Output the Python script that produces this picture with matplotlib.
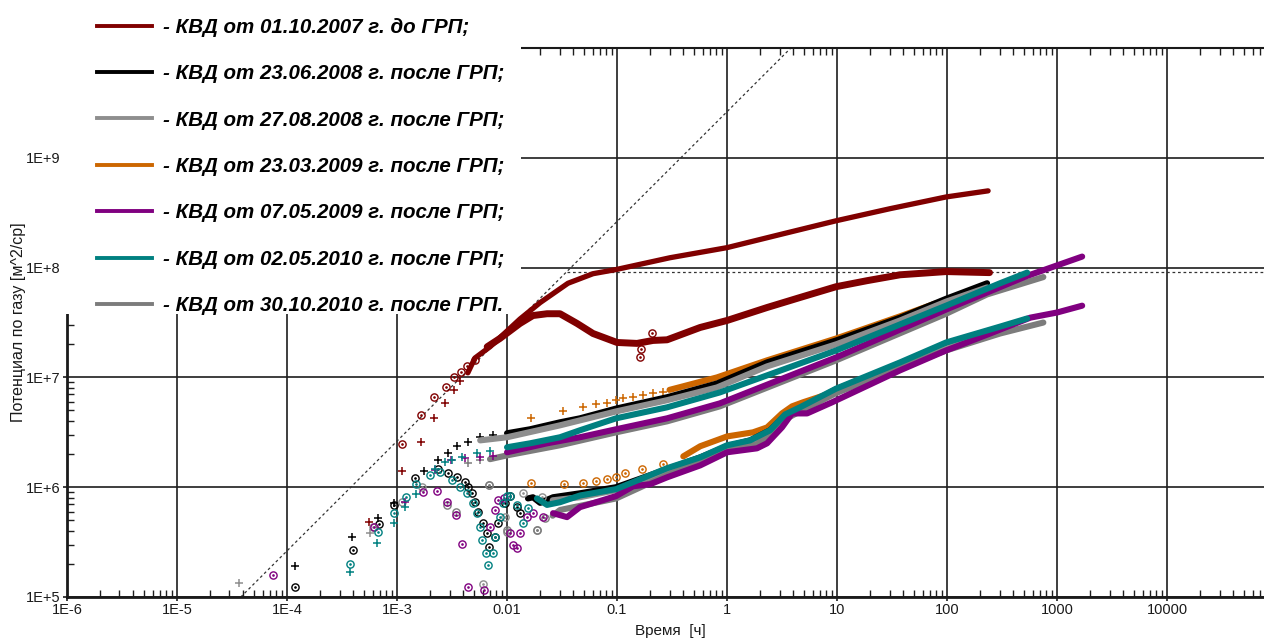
import matplotlib
matplotlib.use('Agg')
import matplotlib.pyplot as plt
from matplotlib.lines import Line2D
from matplotlib.patches import Rectangle
from matplotlib.font_manager import FontProperties
import matplotlib.ticker as mticker

plt.rcParams['font.family'] = ['Liberation Sans', 'DejaVu Sans']

# ---------------- data ----------------
labels = ['- КВД от 01.10.2007 г. до ГРП;',
          '- КВД от 23.06.2008 г. после ГРП;',
          '- КВД от 27.08.2008 г. после ГРП;',
          '- КВД от 23.03.2009 г. после ГРП;',
          '- КВД от 07.05.2009 г. после ГРП;',
          '- КВД от 02.05.2010 г. после ГРП;',
          '- КВД от 30.10.2010 г. после ГРП.']
colors = ['#800000', '#000000', '#8e8e8e', '#cc6600', '#800080', '#008080', '#7c7c7c']

x_ticks = [1e-6, 1e-5, 1e-4, 1e-3, 1e-2, 1e-1, 1, 10, 100, 1000, 10000]
x_ticklabels = ['1E-6', '1E-5', '1E-4', '1E-3', '0.01', '0.1', '1', '10', '100', '1000', '10000']
y_ticks = [1e5, 1e6, 1e7, 1e8, 1e9]
y_ticklabels = ['1E+5', '1E+6', '1E+7', '1E+8', '1E+9']

# unit-slope line and horizontal level
diag_t = [3.8e-5, 3.8]
diag_v = [1e5, 1e10]
level_t = [0.035, 7.6e4]
level_v = [9.2e7, 9.2e7]

# 01.10.2007 (brown)
br_up_sp_t = [5.6e-4, 1.11e-3, 1.65e-3, 2.17e-3, 2.73e-3, 3.3e-3, 3.74e-3]
br_up_sp_v = [4.8e5, 1.4e6, 2.6e6, 4.3e6, 5.9e6, 7.6e6, 9.2e6]
br_up_t = [4.4e-3, 5.1e-3, 7.0e-3, 8.6e-3, 1.31e-2, 2.0e-2, 3.58e-2, 6.05e-2, 0.098, 0.303, 1.0, 3.03, 9.8, 30.3, 98, 236]
br_up_v = [1.1e7, 1.5e7, 1.9e7, 2.3e7, 3.4e7, 4.8e7, 7.2e7, 8.8e7, 9.6e7, 1.23e8, 1.52e8, 2.0e8, 2.67e8, 3.44e8, 4.4e8, 5.0e8]
br_dv_sp_t = [1.10e-3, 1.64e-3, 2.17e-3, 2.79e-3, 3.3e-3, 3.8e-3, 4.33e-3, 5.1e-3, 0.162, 0.166, 0.207]
br_dv_sp_v = [2.5e6, 4.5e6, 6.6e6, 8.1e6, 1.0e7, 1.13e7, 1.26e7, 1.43e7, 1.53e7, 1.8e7, 2.55e7]
br_dv_t = [6.6e-3, 8.6e-3, 1.31e-2, 1.72e-2, 2.31e-2, 3.03e-2, 4.33e-2, 6.05e-2, 0.1, 0.152, 0.212, 0.285, 0.57, 1.0, 2.31, 4.6, 9.8, 18.7, 37.4, 98, 243]
br_dv_v = [1.9e7, 2.26e7, 3.1e7, 3.66e7, 3.8e7, 3.8e7, 3.1e7, 2.51e7, 2.08e7, 2.04e7, 2.17e7, 2.2e7, 2.85e7, 3.3e7, 4.33e7, 5.34e7, 6.7e7, 7.6e7, 8.6e7, 9.2e7, 9.0e7]

# 23.06.2008 (black)
bk_up_sp_t = [1.18e-4, 3.9e-4, 6.7e-4, 9.4e-4, 1.76e-3, 2.36e-3, 2.9e-3, 3.5e-3, 4.4e-3, 5.7e-3, 7.5e-3]
bk_up_sp_v = [1.91e5, 3.5e5, 5.2e5, 7.2e5, 1.4e6, 1.76e6, 2.04e6, 2.36e6, 2.57e6, 2.85e6, 2.97e6]
bk_up_t = [0.01, 1.62e-2, 3.03e-2, 4.6e-2, 0.098, 0.285, 0.81, 2.31, 9.8, 37.4, 98, 231]
bk_up_v = [3.1e6, 3.37e6, 3.9e6, 4.24e6, 5.2e6, 6.6e6, 8.8e6, 1.37e7, 2.17e7, 3.5e7, 5.2e7, 7.2e7]
bk_dv_sp_t = [1.18e-4, 4.0e-4, 6.9e-4, 9.4e-4, 1.46e-3, 2.36e-3, 2.9e-3, 3.5e-3, 4.15e-3, 4.4e-3, 4.8e-3, 5.1e-3, 5.45e-3, 6.05e-3, 6.6e-3, 6.9e-3, 7.8e-3, 8.3e-3, 9.6e-3, 1.065e-2, 1.23e-2, 1.31e-2]
bk_dv_sp_v = [1.23e5, 2.67e5, 4.6e5, 6.9e5, 1.21e6, 1.46e6, 1.34e6, 1.23e6, 1.11e6, 1.0e6, 8.8e5, 7.3e5, 5.9e5, 4.7e5, 3.8e5, 2.85e5, 3.5e5, 4.7e5, 7.2e5, 8.4e5, 6.6e5, 5.8e5]
bk_dv_t = [1.55e-2, 1.72e-2, 2.0e-2, 2.62e-2, 4.6e-2, 0.098, 0.285, 0.57, 1.0, 1.62, 2.46, 3.37, 4.6, 9.8, 37.4, 98, 231]
bk_dv_v = [7.9e5, 8.1e5, 7.2e5, 8.1e5, 8.8e5, 1.0e6, 1.46e6, 1.87e6, 2.36e6, 2.67e6, 3.3e6, 4.5e6, 5.2e6, 7.8e6, 1.33e7, 2.0e7, 2.6e7]

# 27.08.2008 (gray)
g1_up_sp_t = [3.66e-5, 5.7e-4]
g1_up_sp_v = [1.34e5, 3.8e5]
g1_up_t = [5.7e-3, 0.01, 3.03e-2, 0.098, 0.285, 0.81, 2.31, 9.8, 37.4, 98, 231]
g1_up_v = [2.67e6, 2.85e6, 3.66e6, 4.9e6, 6.2e6, 8.1e6, 1.26e7, 2.0e7, 3.3e7, 4.9e7, 6.6e7]
g1_dv_sp_t = [6.05e-4, 1.11e-3, 1.69e-3, 6.05e-3, 6.9e-3, 9.6e-3, 0.01, 1.4e-2, 1.87e-2, 2.08e-2]
g1_dv_sp_v = [4.33e5, 7.3e5, 1.0e6, 1.31e5, 1.04e6, 5.34e5, 3.9e5, 8.8e5, 4.1e5, 8.1e5]
g1_dv_t = [2.6e-2, 4.6e-2, 0.098, 0.285, 0.57, 1.0, 1.62, 2.46, 3.37, 4.6, 9.8, 37.4, 98, 231]
g1_dv_v = [7.6e5, 8.1e5, 9.4e5, 1.43e6, 1.8e6, 2.31e6, 2.62e6, 3.23e6, 4.4e6, 5.1e6, 7.6e6, 1.29e7, 1.83e7, 2.46e7]

# 23.03.2009 (orange)
or_up_sp_t = [1.65e-2, 3.23e-2, 4.9e-2, 6.45e-2, 8.1e-2, 0.098, 0.113, 0.14, 0.172, 0.212, 0.262]
or_up_sp_v = [4.24e6, 4.9e6, 5.34e6, 5.7e6, 5.8e6, 6.2e6, 6.45e6, 6.58e6, 6.9e6, 7.2e6, 7.4e6]
or_up_t = [0.3, 0.4, 0.81, 2.31, 9.8, 37.4, 77.6]
or_up_v = [7.7e6, 8.3e6, 1.0e7, 1.43e7, 2.26e7, 3.6e7, 4.7e7]
or_dv_sp_t = [1.65e-2, 3.3e-2, 4.9e-2, 6.45e-2, 8.1e-2, 0.098, 0.118, 0.17, 0.26]
or_dv_sp_v = [1.09e6, 1.065e6, 1.09e6, 1.13e6, 1.18e6, 1.23e6, 1.34e6, 1.46e6, 1.62e6]
or_dv_t = [0.4, 0.57, 1.0, 1.72, 2.31, 3.16, 3.9, 4.9, 9.2, 16.2]
or_dv_v = [1.91e6, 2.36e6, 2.9e6, 3.16e6, 3.5e6, 4.7e6, 5.45e6, 5.93e6, 7.3e6, 9.2e6]

# 07.05.2009 (purple)
pu_up_sp_t = [1.18e-3, 2.2e-3, 3.1e-3, 4.15e-3, 5.7e-3, 7.5e-3]
pu_up_sp_v = [7.3e5, 1.43e6, 1.76e6, 1.83e6, 1.87e6, 1.91e6]
pu_up_t = [0.01, 2.31e-2, 4.6e-2, 0.098, 0.285, 0.86, 9.8, 98, 231, 534, 1690]
pu_up_v = [2.08e6, 2.51e6, 2.85e6, 3.37e6, 4.24e6, 5.8e6, 1.52e7, 4.15e7, 5.93e7, 8.4e7, 1.26e8]
pu_dv_sp_t = [7.5e-5, 6.2e-4, 1.72e-3, 2.31e-3, 2.85e-3, 3.44e-3, 3.9e-3, 4.4e-3, 6.2e-3, 7.0e-3, 7.8e-3, 8.3e-3, 9.4e-3, 1.065e-2, 1.13e-2, 1.23e-2, 1.31e-2, 1.52e-2, 1.72e-2, 2.12e-2]
pu_dv_sp_v = [1.58e5, 4.33e5, 9.0e5, 9.2e5, 7.3e5, 5.56e5, 3.03e5, 1.23e5, 1.16e5, 4.33e5, 6.2e5, 7.6e5, 7.9e5, 3.8e5, 2.97e5, 2.79e5, 3.8e5, 5.34e5, 5.8e5, 5.34e5]
pu_dv_t = [2.62e-2, 3.51e-2, 4.6e-2, 0.098, 0.14, 0.2, 0.285, 0.57, 1.0, 1.87, 2.31, 3.16, 3.9, 5.34, 9.0, 37.4, 98, 246, 570, 1000, 1690]
pu_dv_v = [5.8e5, 5.34e5, 6.58e5, 8.3e5, 1.02e6, 1.065e6, 1.23e6, 1.58e6, 2.08e6, 2.26e6, 2.51e6, 3.51e6, 4.7e6, 4.7e6, 5.93e6, 1.16e7, 1.76e7, 2.51e7, 3.5e7, 3.9e7, 4.5e7]

# 02.05.2010 (teal)
tl_up_sp_t = [3.74e-4, 6.6e-4, 9.4e-4, 1.18e-3, 1.49e-3, 2.2e-3, 2.73e-3, 3.16e-3, 3.9e-3, 5.34e-3, 7.0e-3]
tl_up_sp_v = [1.69e5, 3.1e5, 4.7e5, 6.6e5, 8.6e5, 1.45e6, 1.69e6, 1.76e6, 1.87e6, 2.04e6, 2.12e6]
tl_up_t = [0.01, 1.62e-2, 3.03e-2, 4.6e-2, 0.098, 0.285, 0.86, 9.8, 98, 303, 534]
tl_up_v = [2.31e6, 2.51e6, 2.85e6, 3.3e6, 4.24e6, 5.34e6, 7.3e6, 1.76e7, 4.5e7, 7.2e7, 9.0e7]
tl_dv_sp_t = [3.74e-4, 6.7e-4, 9.4e-4, 1.21e-3, 1.49e-3, 2.0e-3, 2.46e-3, 3.16e-3, 3.74e-3, 4.33e-3, 4.9e-3, 5.34e-3, 5.7e-3, 5.93e-3, 6.45e-3, 6.7e-3, 7.45e-3, 7.8e-3, 8.6e-3, 9.2e-3, 1.0e-2, 1.065e-2, 1.23e-2, 1.4e-2, 1.55e-2]
tl_dv_sp_v = [2.0e5, 3.9e5, 5.8e5, 8.1e5, 1.065e6, 1.29e6, 1.37e6, 1.16e6, 1.0e6, 8.8e5, 7.2e5, 5.8e5, 4.33e5, 3.3e5, 2.51e5, 1.95e5, 2.51e5, 3.5e5, 5.34e5, 7.2e5, 8.3e5, 8.4e5, 6.9e5, 4.7e5, 6.45e5]
tl_dv_t = [1.87e-2, 2.31e-2, 3.03e-2, 4.6e-2, 0.098, 0.285, 0.57, 1.0, 1.62, 2.46, 3.37, 4.6, 9.8, 37.4, 98, 303, 534]
tl_dv_v = [7.9e5, 6.9e5, 7.3e5, 8.4e5, 9.6e5, 1.49e6, 1.87e6, 2.41e6, 2.67e6, 3.3e6, 4.6e6, 5.34e6, 7.9e6, 1.37e7, 2.08e7, 2.9e7, 3.44e7]

# 30.10.2010 (gray)
g2_up_sp_t = [4.4e-3, 5.7e-3]
g2_up_sp_v = [1.66e6, 1.76e6]
g2_up_t = [7.0e-3, 0.01, 3.03e-2, 0.098, 0.285, 0.86, 9.8, 98, 231, 750]
g2_up_v = [1.8e6, 1.95e6, 2.41e6, 3.16e6, 3.98e6, 5.45e6, 1.43e7, 3.8e7, 5.7e7, 8.2e7]
g2_dv_sp_t = [2.85e-3, 3.44e-3, 6.9e-3, 1.0e-2, 1.87e-2, 2.2e-2]
g2_dv_sp_v = [6.9e5, 5.9e5, 1.04e6, 4.1e5, 4.1e5, 5.2e5]
g2_dv_t = [2.6e-2, 3.03e-2, 0.098, 0.285, 0.57, 1.0, 1.87, 2.46, 3.37, 4.6, 9.8, 37.4, 98, 303, 750]
g2_dv_v = [5.5e5, 6.2e5, 7.9e5, 1.29e6, 1.69e6, 2.17e6, 2.46e6, 3.03e6, 4.15e6, 4.9e6, 7.2e6, 1.23e7, 1.76e7, 2.51e7, 3.16e7]

# ---------------- figure ----------------
W, H = 1264, 640
fig = plt.figure(figsize=(W / 100, H / 100), dpi=100)
ax = fig.add_axes([67 / W, (H - 597) / H, (W - 67) / W, (597 - 48) / H])
ax.set_xscale('log')
ax.set_yscale('log')
ax.set_xlim(1e-6, 7.6e4)
ax.set_ylim(1e5, 1e10)

grid_c = '#1e1e1e'
for t in x_ticks:
    ax.axvline(t, color=grid_c, lw=1.2, zorder=1)
for v in y_ticks + [1e10]:
    ax.axhline(v, color=grid_c, lw=1.2, zorder=1)

dash = (0, (2.2, 2.2))
ax.plot(diag_t, diag_v, color='#333333', lw=0.9, ls=dash, zorder=2)
ax.plot(level_t, level_v, color='#333333', lw=0.9, ls=dash, zorder=2)


def plus_pts(t, v, c, z):
    ax.plot(t, v, ls='none', marker='+', ms=5.5, mew=1.1, color=c, zorder=z)


def circ_pts(t, v, c, z):
    ax.plot(t, v, ls='none', marker='o', ms=5.2, mfc='none', mew=1.0, color=c, zorder=z)
    ax.plot(t, v, ls='none', marker='.', ms=1.8, color=c, zorder=z)


def band(t, v, c, z, lw=4.4):
    ax.plot(t, v, color=c, lw=lw, solid_capstyle='round', solid_joinstyle='round', zorder=z)


c_br, c_bk, c_g1, c_or, c_pu, c_tl, c_g2 = colors

# brown
plus_pts(br_up_sp_t, br_up_sp_v, c_br, 4)
circ_pts(br_dv_sp_t, br_dv_sp_v, c_br, 4)
band(br_up_t, br_up_v, c_br, 4, lw=3.8)
band(br_dv_t, br_dv_v, c_br, 4, lw=5.0)

# post-frac series: order controls overlap
series = [
    (c_or, or_up_sp_t, or_up_sp_v, or_up_t, or_up_v, or_dv_sp_t, or_dv_sp_v, or_dv_t, or_dv_v, 5),
    (c_bk, bk_up_sp_t, bk_up_sp_v, bk_up_t, bk_up_v, bk_dv_sp_t, bk_dv_sp_v, bk_dv_t, bk_dv_v, 6),
    (c_g1, g1_up_sp_t, g1_up_sp_v, g1_up_t, g1_up_v, g1_dv_sp_t, g1_dv_sp_v, g1_dv_t, g1_dv_v, 7),
    (c_g2, g2_up_sp_t, g2_up_sp_v, g2_up_t, g2_up_v, g2_dv_sp_t, g2_dv_sp_v, g2_dv_t, g2_dv_v, 8),
    (c_pu, pu_up_sp_t, pu_up_sp_v, pu_up_t, pu_up_v, pu_dv_sp_t, pu_dv_sp_v, pu_dv_t, pu_dv_v, 9),
    (c_tl, tl_up_sp_t, tl_up_sp_v, tl_up_t, tl_up_v, tl_dv_sp_t, tl_dv_sp_v, tl_dv_t, tl_dv_v, 10),
]
for c, ust, usv, ut, uv, dst, dsv, dt, dv, z in series:
    plus_pts(ust, usv, c, z)
    circ_pts(dst, dsv, c, z)
    band(ut, uv, c, z)
    band(dt, dv, c, z)

# axes styling
ax.set_xticks(x_ticks)
ax.set_xticklabels(x_ticklabels)
ax.set_yticks(y_ticks)
ax.set_yticklabels(y_ticklabels)
ax.xaxis.set_minor_locator(mticker.LogLocator(base=10, subs=range(2, 10), numticks=30))
ax.yaxis.set_minor_locator(mticker.LogLocator(base=10, subs=range(2, 10), numticks=30))
ax.xaxis.set_minor_formatter(mticker.NullFormatter())
ax.yaxis.set_minor_formatter(mticker.NullFormatter())
ax.tick_params(which='major', direction='out', length=3, width=1.2, color=grid_c,
               labelsize=10.5, labelcolor='#1a1a1a', pad=2)
ax.tick_params(which='minor', direction='in', length=5, width=1.0, color=grid_c,
               top=True, bottom=True, left=True, right=False)
ax.tick_params(axis='x', which='major', top=False, pad=1)
for s in ['left', 'bottom']:
    ax.spines[s].set_linewidth(2.0)
    ax.spines[s].set_color('#1a1a1a')
ax.spines['top'].set_linewidth(1.5)
ax.spines['top'].set_color('#1a1a1a')
ax.spines['right'].set_visible(False)

ax.set_xlabel('Время  [ч]', fontsize=11, color='#1a1a1a')
ax.set_ylabel('Потенциал по газу [м^2/ср]', fontsize=11.5, color='#1a1a1a')
ax.xaxis.set_label_coords(0.504, -0.049)
ax.yaxis.set_label_coords(-0.034, 0.5)

# white legend area
fig.patches.append(Rectangle((63 / W, 1 - 314 / H), (521 - 63) / W, 314 / H,
                             transform=fig.transFigure, facecolor='white',
                             edgecolor='none', zorder=1))

handles = [Line2D([0], [0], color=c, lw=2.8) for c in colors]
leg = fig.legend(handles, labels, loc='upper left',
                 bbox_to_anchor=(97 / W, 1 - 18 / H), bbox_transform=fig.transFigure,
                 frameon=False, borderpad=0, borderaxespad=0,
                 handlelength=2.68, handletextpad=0.55, labelspacing=1.33,
                 prop=FontProperties(family='Liberation Sans', weight='bold',
                                     style='italic', size=14.8))
leg.set_zorder(6)

fig.savefig('out.png', dpi=100)
